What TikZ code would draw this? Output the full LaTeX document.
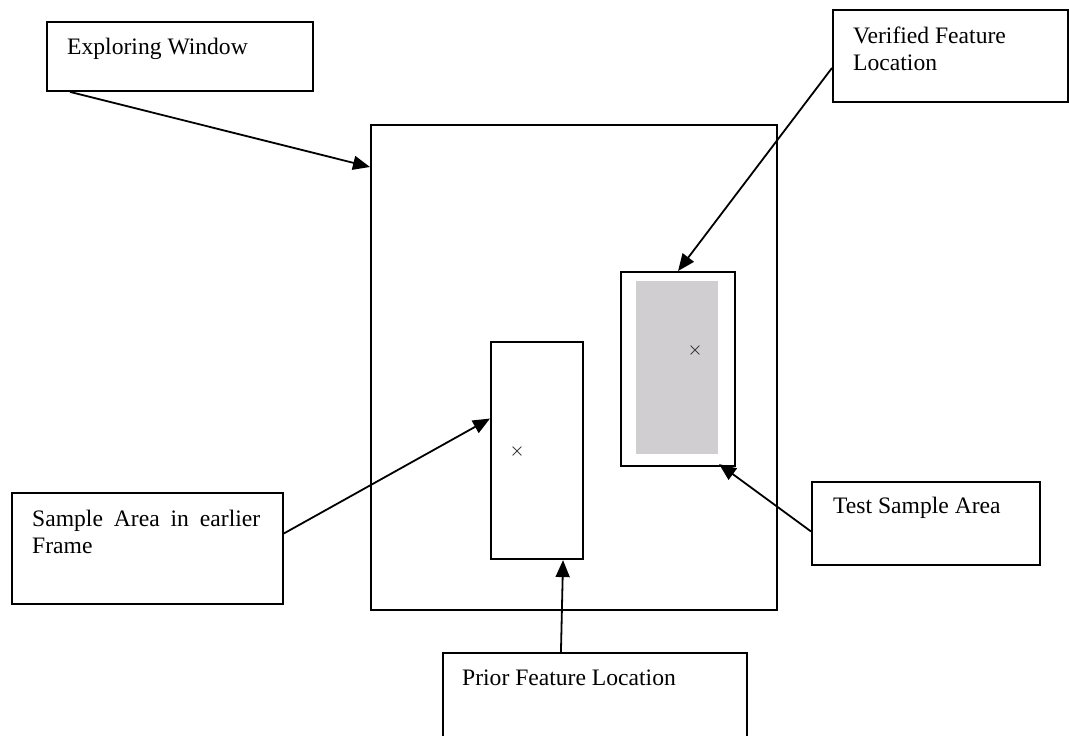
\documentclass[tikz,border=0pt]{standalone}
\usepackage{fontspec}
\setmainfont{Liberation Serif}
\usepackage{tikz}
\usetikzlibrary{shapes,shapes.misc,arrows.meta,positioning}
\definecolor{shade}{RGB}{208,206,208}
\tikzstyle{arrow} = [-{Triangle[length=17pt,width=14pt]}, line width=1.8pt]
\tikzstyle{callout} = [rectangle, draw, line width=1.9pt, anchor=north west, inner sep=0pt]
\tikzstyle{area} = [rectangle, draw, line width=2.1pt, anchor=north west, inner sep=0pt]
\tikzstyle{caption} = [anchor=base west, inner sep=0pt, align=left, font=\fontsize{23.6}{27}\selectfont]
\tikzstyle{pointx} = [cross out, draw=black!75, line width=0.8pt, minimum size=8pt, inner sep=0pt]
\begin{document}
\begin{tikzpicture}[x=1pt, y=-1pt]
\useasboundingbox (0,0) rectangle (1069,736);

\node (win) [area, minimum width=406pt, minimum height=485pt] at (370,124) {};

\node (testfill) [fill=shade, anchor=north west, minimum width=82pt, minimum height=173pt, inner sep=0pt] at (636,281) {};
\node (test) [area, minimum width=114pt, minimum height=194pt] at (620,271) {};
\node (testx) [pointx] at (695,350) {};

\node (samp) [area, minimum width=92pt, minimum height=217pt] at (490,341) {};
\node (sampx) [pointx] at (517,451) {};

\node (expl) [callout, minimum width=266pt, minimum height=69pt] at (46,21) {};
\node (expltext) [caption] at (67,54) {Exploring Window};

\node (ver) [callout, minimum width=235pt, minimum height=92pt] at (832,9) {};
\node (vertext) [caption] at (853,70) {Verified Feature\\Location};

\node (sae) [callout, minimum width=271pt, minimum height=111pt] at (11,492) {};
\node (saetext) [caption] at (32,553) {\makebox[228pt][s]{Sample Area in earlier}\\Frame};

\node (tsa) [callout, minimum width=228pt, minimum height=83pt] at (811,481) {};
\node (tsatext) [caption] at (833,513) {Test Sample Area};

\node (prior) [callout, minimum width=304pt, minimum height=100pt] at (442,652) {};
\node (priortext) [caption] at (462,685) {Prior Feature Location};

\draw [arrow] ([xshift=24pt]expl.south west) -- ([yshift=-43pt]win.north west);
\draw [arrow] ([yshift=-12pt]ver.west) -- (test.north);
\draw [arrow] ([yshift=-8pt]tsa.west) -- ([xshift=-17pt,yshift=3pt]test.south east);
\draw [arrow] ([yshift=15pt]sae.east) -- ([yshift=32pt]samp.west);
\draw [arrow] ([xshift=-34pt]prior.north) -- ([xshift=26pt]samp.south);

\end{tikzpicture}
\end{document}
